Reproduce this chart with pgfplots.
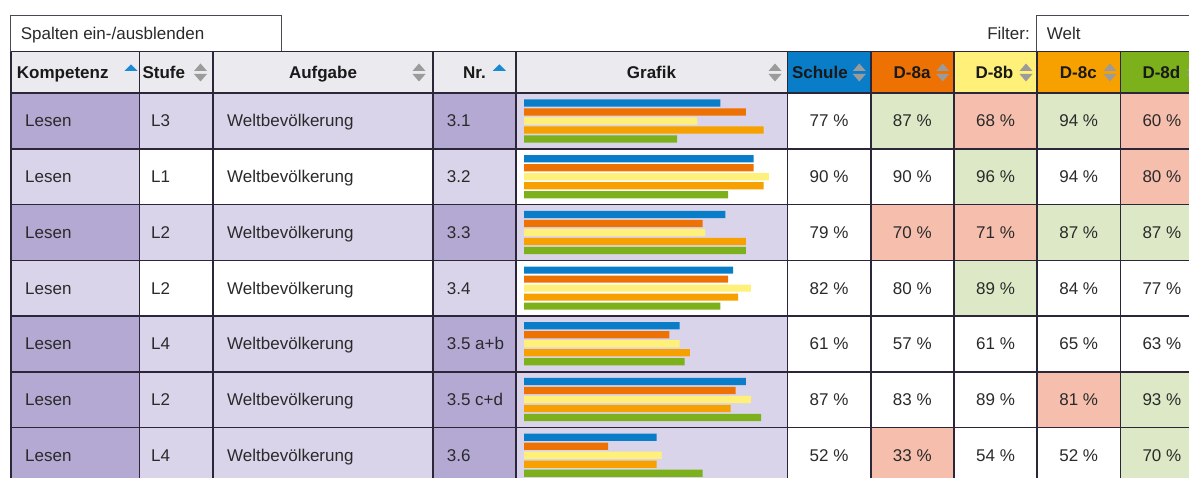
\documentclass[border=0pt]{standalone}
\usepackage{pgfplots}
\pgfplotsset{compat=1.18}
\usepackage{pgfplotstable}
\usepackage{fontspec}
\setmainfont{Liberation Sans}

\definecolor{schule}{HTML}{0A7DC8}
\definecolor{deA}{HTML}{EE7203}
\definecolor{deB}{HTML}{FFF07A}
\definecolor{deC}{HTML}{F7A100}
\definecolor{deD}{HTML}{7DB11C}
\definecolor{hdr}{HTML}{EBEBEF}
\definecolor{pdark}{HTML}{B3A9D3}
\definecolor{plight}{HTML}{DAD4EA}
\definecolor{good}{HTML}{DDE9C6}
\definecolor{bad}{HTML}{F6BEAC}
\definecolor{gridc}{HTML}{2B2738}
\definecolor{txt}{HTML}{2A2A2A}
\definecolor{arr}{HTML}{9B9B9B}
\definecolor{arrb}{HTML}{1A8AD4}

% Ergebnisse in Prozent, eine Zeile je Aufgabe
\pgfplotstableread{
row schule d8a d8b d8c d8d
1 77 87 68 94 60
2 90 90 96 94 80
3 79 70 71 87 87
4 82 80 89 84 77
5 61 57 61 65 63
6 87 83 89 81 93
7 52 33 54 52 70
}\resultate

\newcommand\sortarrows[1]{%
  \fill[arr] ({#1-6.5},71) -- (#1,63.5) -- ({#1+6.5},71) -- cycle;
  \fill[arr] ({#1-6.5},74) -- (#1,81.5) -- ({#1+6.5},74) -- cycle;}
\newcommand\sortup[1]{%
  \fill[arrb] ({#1-6.5},70.8) -- (#1,64.3) -- ({#1+6.5},70.8) -- cycle;}

\begin{document}
\fontsize{17}{20}\selectfont
\begin{tikzpicture}
\path[use as bounding box, clip] (0,0) rectangle (1189pt,-478pt);
\fill[white] (0,0) rectangle (1189pt,-478pt);

\begin{scope}[x=1pt,y=-1pt]
  % Kopfzeile
  \fill[hdr] (10.7,51.7) rectangle (787.5,93.3);
  \fill[schule] (787.5,51.7) rectangle (870.7,93.3);
  \fill[deA] (870.7,51.7) rectangle (953.9,93.3);
  \fill[deB] (953.9,51.7) rectangle (1037.1,93.3);
  \fill[deC] (1037.1,51.7) rectangle (1120.3,93.3);
  \fill[deD] (1120.3,51.7) rectangle (1203.5,93.3);
  % Zeilenhintergrund
  \foreach \r/\k/\s in {1/pdark/plight, 2/plight/white, 3/pdark/plight, 4/plight/white,
                        5/pdark/plight, 6/pdark/plight, 7/pdark/plight}{
    \pgfmathsetmacro\t{93.3+55.7*(\r-1)}
    \pgfmathsetmacro\bt{\t+55.7}
    \fill[fill=\k] (10.7,\t) rectangle (139.3,\bt);
    \fill[fill=\s] (139.3,\t) rectangle (432.7,\bt);
    \fill[fill=\k] (432.7,\t) rectangle (515.7,\bt);
    \fill[fill=\s] (515.7,\t) rectangle (787.5,\bt);
  }
  % markierte Zellen: Zeile/Klasse/Farbe
  \foreach \r/\c/\f in {1/1/good,1/2/bad,1/3/good,1/4/bad, 2/2/good,2/4/bad,
                        3/1/bad,3/2/bad,3/3/good,3/4/good, 4/2/good,
                        6/3/bad,6/4/good, 7/1/bad,7/4/good}{
    \pgfmathsetmacro\t{93.3+55.7*(\r-1)}
    \pgfmathsetmacro\l{787.5+83.2*\c}
    \fill[fill=\f] (\l,\t) rectangle ({\l+83.2},{\t+55.7});
  }
\end{scope}

% Balken in der Spalte Grafik
\begin{axis}[at={(524pt,0pt)}, anchor=north west, width=255pt, height=478pt,
  scale only axis, xmin=0, xmax=100, ymin=0, ymax=478, y dir=reverse,
  hide axis, clip=false]
  \addplot[xbar, bar width=7.2pt, bar shift=0pt, fill=schule, draw=none]
    table[x=schule, y expr={93.3+55.7*(\thisrow{row}-1)+9.7}] {\resultate};
  \addplot[xbar, bar width=7.2pt, bar shift=0pt, fill=deA, draw=none]
    table[x=d8a, y expr={93.3+55.7*(\thisrow{row}-1)+18.7}] {\resultate};
  \addplot[xbar, bar width=7.2pt, bar shift=0pt, fill=deB, draw=none]
    table[x=d8b, y expr={93.3+55.7*(\thisrow{row}-1)+27.7}] {\resultate};
  \addplot[xbar, bar width=7.2pt, bar shift=0pt, fill=deC, draw=none]
    table[x=d8c, y expr={93.3+55.7*(\thisrow{row}-1)+36.7}] {\resultate};
  \addplot[xbar, bar width=7.2pt, bar shift=0pt, fill=deD, draw=none]
    table[x=d8d, y expr={93.3+55.7*(\thisrow{row}-1)+45.7}] {\resultate};
\end{axis}

\begin{scope}[x=1pt,y=-1pt]
  % Eingabefelder oben
  \draw[line width=1pt, draw=gridc!85, fill=white] (10.7,16) rectangle (281.7,51.7);
  \draw[line width=1pt, draw=gridc!85, fill=white] (1036.7,16) rectangle (1215,51.7);
  \node[anchor=base west, inner sep=0, text=txt] at (20.7,39.5) {Spalten ein-/ausblenden};
  \node[anchor=base east, inner sep=0, text=txt] at (1030,39.5) {Filter:};
  \node[anchor=base west, inner sep=0, text=txt] at (1046.7,39.5) {Welt};

  % Gitter
  \begin{scope}[line width=1.6pt, draw=gridc]
    \foreach \x in {10.7,139.3,212.7,432.7,515.7,787.5,870.7,953.9,1037.1,1120.3}
      \draw (\x,51.7) -- (\x,485);
    \draw (10.7,51.7) -- (1200,51.7);
    \foreach \i in {0,...,6}
      \draw (10.7,{93.3+55.7*\i}) -- (1200,{93.3+55.7*\i});
  \end{scope}

  % Kopftexte
  \begin{scope}[every node/.style={inner sep=0, text=black!90, font=\bfseries}]
    \node[anchor=base west] at (16.7,78.5) {Kompetenz};
    \node[anchor=base west] at (142.3,78.5) {Stufe};
    \node[anchor=base] at (323,78.5) {Aufgabe};
    \node[anchor=base west] at (463,78.5) {Nr.};
    \node[anchor=base] at (651.5,78.5) {Grafik};
    \node[anchor=base east] at (848,78.5) {Schule};
    \node[anchor=base east] at (930.7,78.5) {D-8a};
    \node[anchor=base east] at (1013.5,78.5) {D-8b};
    \node[anchor=base east] at (1097,78.5) {D-8c};
    \node[anchor=base east] at (1180.5,78.5) {D-8d};
  \end{scope}
  \sortup{131}
  \sortup{499.3}
  \foreach \a in {200.5,419,775,859.3,942.7,1026,1110,1193} {\sortarrows{\a}}

  % Zeilentexte
  \foreach \r/\st/\nr/\va/\vb/\vc/\vd/\ve in {
      1/L3/3.1/77/87/68/94/60, 2/L1/3.2/90/90/96/94/80,
      3/L2/3.3/79/70/71/87/87, 4/L2/3.4/82/80/89/84/77,
      5/L4/3.5 a+b/61/57/61/65/63, 6/L2/3.5 c+d/87/83/89/81/93,
      7/L4/3.6/52/33/54/52/70}{
    \pgfmathsetmacro\yb{93.3+55.7*(\r-1)+27.85+5.8}
    \begin{scope}[every node/.style={inner sep=0, text=txt}]
      \node[anchor=base west] at (25,\yb) {Lesen};
      \node[anchor=base west] at (151,\yb) {\st};
      \node[anchor=base west] at (227,\yb) {Weltbevölkerung};
      \node[anchor=base west] at (446.7,\yb) {\nr};
      \node[anchor=base] at (829.1,\yb) {\va~\%};
      \node[anchor=base] at (912.3,\yb) {\vb~\%};
      \node[anchor=base] at (995.5,\yb) {\vc~\%};
      \node[anchor=base] at (1078.7,\yb) {\vd~\%};
      \node[anchor=base] at (1161.9,\yb) {\ve~\%};
    \end{scope}
  }
\end{scope}
\end{tikzpicture}
\end{document}
